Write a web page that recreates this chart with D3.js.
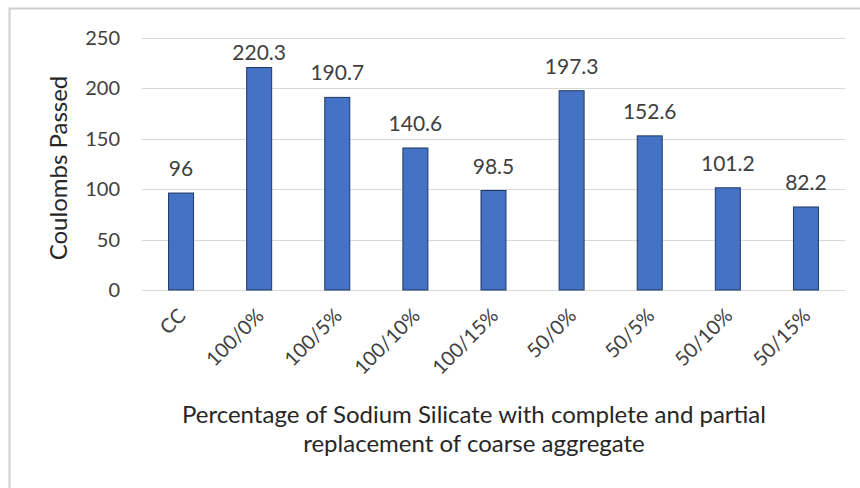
<!DOCTYPE html>
<html>
<head>
<meta charset="utf-8">
<script src="https://cdn.jsdelivr.net/npm/d3@7"></script>
<style>
  body { margin: 0; background: #fff; }
  svg { font-family: Lato, "Liberation Sans", sans-serif; }
  .grid line { stroke: #d9d9d9; stroke-width: 1; }
  .tickLabel { fill: #404040; font-size: 20px; }
  .dataLabel { fill: #404040; font-size: 21px; }
  .catLabel { fill: #404040; font-size: 20px; }
  .axisTitle { fill: #262626; font-size: 24px; }
</style>
</head>
<body>
<div id="chart"></div>
<script>
var categories = ["CC", "100/0%", "100/5%", "100/10%", "100/15%", "50/0%", "50/5%", "50/10%", "50/15%"];
var values = [96, 220.3, 190.7, 140.6, 98.5, 197.3, 152.6, 101.2, 82.2];
var valueLabels = ["96", "220.3", "190.7", "140.6", "98.5", "197.3", "152.6", "101.2", "82.2"];
var yTicks = [0, 50, 100, 150, 200, 250];
var yTitle = "Coulombs Passed";
var xTitleLines = ["Percentage of Sodium Silicate with complete and partial", "replacement of coarse aggregate"];

var W = 860, H = 488;
var plot = { left: 142, right: 845, top: 37.5, bottom: 290 };

var svg = d3.select("#chart").append("svg")
    .attr("width", W)
    .attr("height", H);

// chart frame (only left and top edges are in view)
svg.append("path")
    .attr("d", "M9.5 " + H + " L9.5 8.5 L" + W + " 8.5")
    .attr("fill", "none")
    .attr("stroke", "#cfcfcf")
    .attr("stroke-width", 2);

var x = d3.scaleBand()
    .domain(categories)
    .range([plot.left, plot.right])
    .paddingInner(0.68)
    .paddingOuter(0.34);

var y = d3.scaleLinear()
    .domain([0, 250])
    .range([plot.bottom, plot.top]);

// gridlines
svg.append("g").attr("class", "grid")
    .selectAll("line").data(yTicks).enter().append("line")
    .attr("x1", plot.left)
    .attr("x2", plot.right)
    .attr("y1", function(d){ return Math.round(y(d)) + 0.5; })
    .attr("y2", function(d){ return Math.round(y(d)) + 0.5; });

// y tick labels
svg.append("g").selectAll("text").data(yTicks).enter().append("text")
    .attr("class", "tickLabel")
    .attr("x", 120)
    .attr("y", function(d){ return y(d); })
    .attr("dy", "0.35em")
    .attr("text-anchor", "end")
    .text(function(d){ return d; });

// bars
svg.append("g").selectAll("rect").data(values).enter().append("rect")
    .attr("x", function(d,i){ return x(categories[i]); })
    .attr("width", x.bandwidth())
    .attr("y", function(d){ return y(d); })
    .attr("height", function(d){ return y(0) - y(d); })
    .attr("fill", "#4472c4")
    .attr("stroke", "#1f3864")
    .attr("stroke-width", 1);

// data labels, kept inside the plot area
svg.append("g").selectAll("text").data(values).enter().append("text")
    .attr("class", "dataLabel")
    .attr("x", function(d,i){ return x(categories[i]) + x.bandwidth()/2; })
    .attr("y", function(d){ return Math.max(y(d) - 17, plot.top + 22); })
    .attr("text-anchor", "middle")
    .text(function(d,i){ return valueLabels[i]; });

// category labels, rotated
svg.append("g").selectAll("text").data(categories).enter().append("text")
    .attr("class", "catLabel")
    .attr("text-anchor", "end")
    .attr("transform", function(d){
        var cx = x(d) + x.bandwidth()/2 + 6;
        return "translate(" + cx + "," + 317 + ") rotate(-45)";
    })
    .text(function(d){ return d; });

// axis titles
svg.append("text")
    .attr("class", "axisTitle")
    .attr("transform", "translate(67,168) rotate(-90)")
    .attr("text-anchor", "middle")
    .text(yTitle);

svg.append("g").selectAll("text").data(xTitleLines).enter().append("text")
    .attr("class", "axisTitle")
    .attr("x", 474)
    .attr("y", function(d,i){ return 423 + i*29; })
    .attr("text-anchor", "middle")
    .text(function(d){ return d; });
</script>
</body>
</html>
